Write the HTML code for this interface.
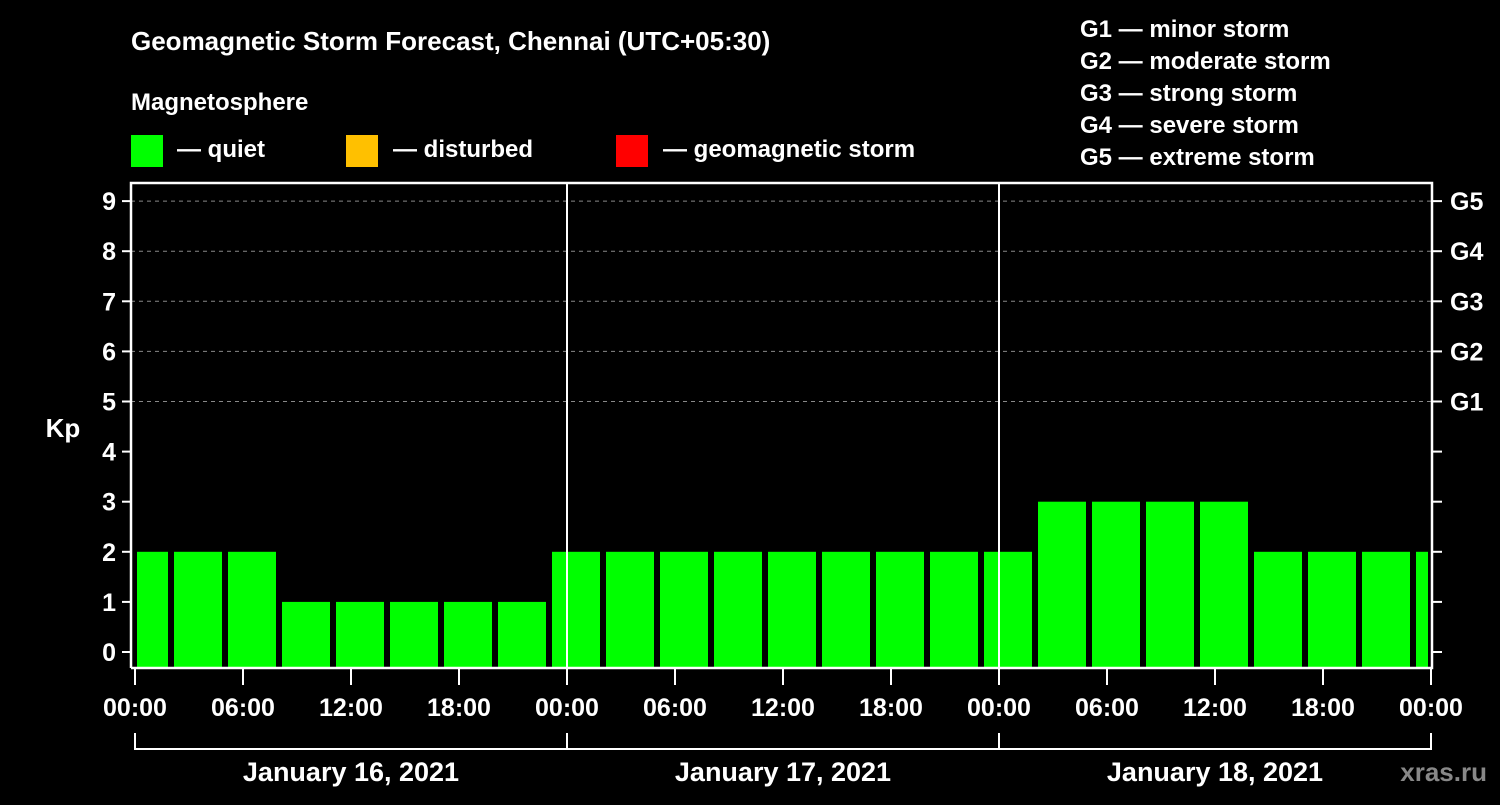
<!DOCTYPE html>
<html><head><meta charset="utf-8"><style>
body{margin:0;background:#000;width:1500px;height:800px;overflow:hidden}
text{font-family:"Liberation Sans",sans-serif;font-weight:bold;fill:#fff}
</style></head><body>
<svg id="chart" width="1500" height="800" viewBox="0 0 1500 800" xmlns="http://www.w3.org/2000/svg">
<rect width="1500" height="800" fill="#000"/>
<text x="131" y="50" font-size="26">Geomagnetic Storm Forecast, Chennai (UTC+05:30)</text>
<text x="131" y="110" font-size="24">Magnetosphere</text>
<g>
<rect x="131" y="135" width="32" height="32" fill="#00ff00"/>
<text x="177" y="157" font-size="24">— quiet</text>
<rect x="346" y="135" width="32" height="32" fill="#ffc000"/>
<text x="393" y="157" font-size="24">— disturbed</text>
<rect x="616" y="135" width="32" height="32" fill="#ff0000"/>
<text x="663" y="157" font-size="24">— geomagnetic storm</text>
</g>
<g font-size="24">
<text x="1080" y="37">G1 — minor storm</text>
<text x="1080" y="69">G2 — moderate storm</text>
<text x="1080" y="101">G3 — strong storm</text>
<text x="1080" y="133">G4 — severe storm</text>
<text x="1080" y="165">G5 — extreme storm</text>
</g>
<text x="63" y="437" font-size="26" text-anchor="middle">Kp</text>
<text x="1487" y="781" font-size="26" text-anchor="end" style="fill:#888">xras.ru</text>
<g id="grid"></g><g id="bars"></g><g id="axes"></g>
</svg>
<script>
const kpValues=[2,2,2,1,1,1,1,1,2,2,2,2,2,2,2,2,2,3,3,3,3,2,2,2,2];
const yTicks=[0,1,2,3,4,5,6,7,8,9];
const gLabels=["G1","G2","G3","G4","G5"];
const gLevels=[5,6,7,8,9];
const xTickLabels=["00:00","06:00","12:00","18:00","00:00","06:00","12:00","18:00","00:00","06:00","12:00","18:00","00:00"];
const dayLabels=["January 16, 2021","January 17, 2021","January 18, 2021"];
const firstSlotHour=-1; // first bar slot start in hours from first 00:00
const NS="http://www.w3.org/2000/svg";
const X0=135,PXH=18,L=131,R=1432,T=183,B=668;
function xs(h){return X0+h*PXH}
function ys(v){return 652-v*50.1}
function mk(tag,attrs,parent,txt){const e=document.createElementNS(NS,tag);for(const k in attrs)e.setAttribute(k,attrs[k]);if(txt!==undefined)e.textContent=txt;parent.appendChild(e);return e}
const grid=document.getElementById('grid'),bars=document.getElementById('bars'),axes=document.getElementById('axes');
gLevels.forEach((v,i)=>{
 const ln=mk('line',{x1:L,x2:R,y1:ys(v),y2:ys(v),stroke:'#888','stroke-width':1,'stroke-dasharray':'4,4'},grid);
 
 
 const t=mk('text',{x:1450,y:ys(v)+9,'font-size':25},axes,gLabels[i]);
 
 
});
kpValues.forEach((v,i)=>{
 let x1=xs(firstSlotHour+i*3)+3,x2=xs(firstSlotHour+i*3+3)-3;
 x1=Math.max(x1,X0+2);x2=Math.min(x2,1428);
 const col=v>=5?'#ff0000':(v>=4?'#ffc000':'#00ff00');
 const r=mk('rect',{x:x1,y:ys(v),width:x2-x1,height:B-ys(v),fill:col},bars);
 
 
});
// frame
const fr=mk('path',{d:`M${L},${B}V${T}H${R}V${B}H${L}`,stroke:'#fff','stroke-width':2.5,fill:'none'},axes);


[1,2].forEach(d=>{
 const ln=mk('line',{x1:xs(d*24),x2:xs(d*24),y1:T,y2:B,stroke:'#fff','stroke-width':2},axes);
 
 
});
yTicks.forEach(v=>{
 const y=ys(v);
 const tk=mk('line',{x1:122,x2:L,y1:y,y2:y,stroke:'#fff','stroke-width':2},axes);
 
 
 const rt=mk('line',{x1:R,x2:1442,y1:y,y2:y,stroke:'#fff','stroke-width':2},axes);
 
 
 const t=mk('text',{x:116,y:y+9,'font-size':25,'text-anchor':'end'},axes,String(v));
 
 
});
xTickLabels.forEach((s,i)=>{
 const x=xs(i*6);
 const tk=mk('line',{x1:x,x2:x,y1:B,y2:685,stroke:'#fff','stroke-width':2},axes);
 
 
 const t=mk('text',{x:x,y:716,'font-size':25,'text-anchor':'middle'},axes,s);
 
 
});
const br=mk('line',{x1:xs(0),x2:xs(72),y1:749,y2:749,stroke:'#fff','stroke-width':2},axes);


[0,1,2,3].forEach(d=>{
 const ln=mk('line',{x1:xs(d*24),x2:xs(d*24),y1:733,y2:750,stroke:'#fff','stroke-width':2},axes);
 
 
});
dayLabels.forEach((s,d)=>{
 const t=mk('text',{x:xs(d*24+12),y:781,'font-size':27,'text-anchor':'middle'},axes,s);
 
 
});
</script>
</body></html>
